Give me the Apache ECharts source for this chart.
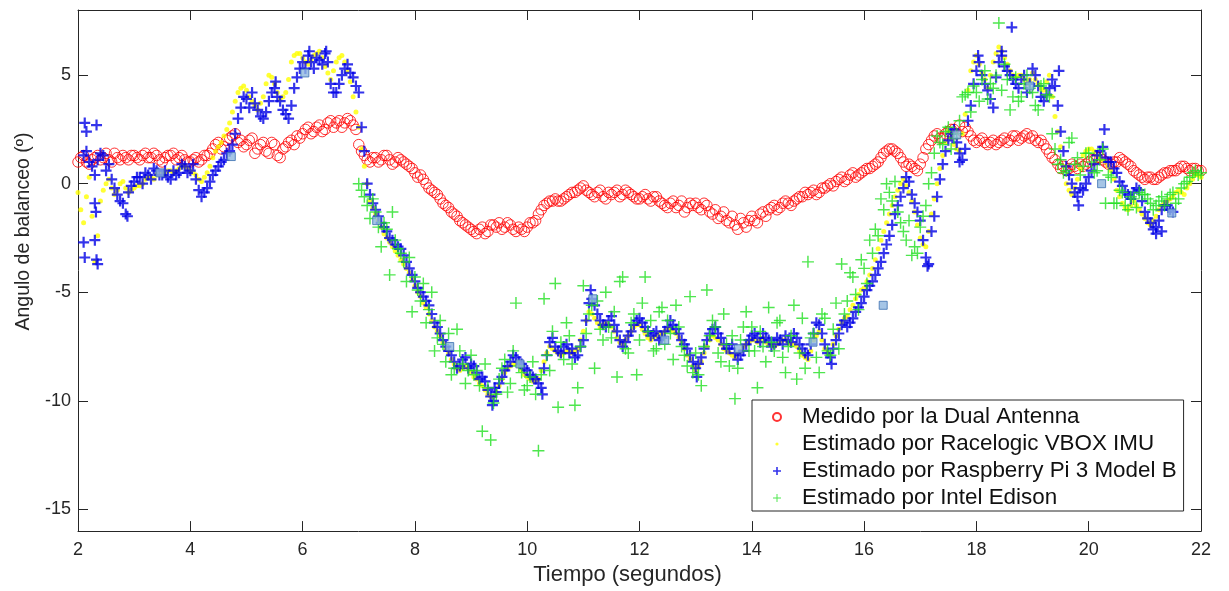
<!DOCTYPE html>
<html><head><meta charset="utf-8">
<script src="https://cdn.jsdelivr.net/npm/echarts@6/dist/echarts.min.js"></script>
<style>html,body{margin:0;padding:0;background:#fff}#c{width:1229px;height:591px}</style>
</head><body><div id="c"></div>
<script>
// ---------- data (rows = one second, samples every 0.1 s) ----------
const seriesNames = ['Medido por la Dual Antenna','Estimado por Racelogic VBOX IMU','Estimado por Raspberry Pi 3 Model B','Estimado por Intel Edison'];
const yTickValues = [-15, -10, -5, 0, 5];

// Dual Antenna, t = s.0 .. s.9 starting at 2 s
const dualA = [
 [1.0,1.3,0.9,1.2,1.1,1.4,1.0,1.2,1.3,1.1],
 [1.3,1.1,1.4,1.2,1.3,1.0,1.3,1.4,1.2,1.1],
 [1.0,1.2,1.1,1.3,1.6,1.9,1.7,2.1,2.3,2.0],
 [1.8,2.1,1.6,1.9,1.4,1.8,1.2,1.7,2.0,2.2],
 [2.3,2.6,2.4,2.7,2.5,2.9,2.8,2.6,3.0,2.7],
 [1.8,1.3,1.0,1.2,1.1,1.3,0.9,1.2,1.0,0.8],
 [0.5,0.4,0.0,-0.3,-0.5,-0.9,-1.1,-1.4,-1.7,-1.9],
 [-2.1,-2.3,-2.0,-2.2,-1.9,-1.8,-2.0,-1.9,-2.2,-2.1],
 [-2.0,-1.8,-1.4,-1.0,-0.8,-0.7,-0.8,-0.6,-0.4,-0.3],
 [-0.1,-0.4,-0.6,-0.3,-0.7,-0.5,-0.3,-0.5,-0.4,-0.6],
 [-0.7,-0.5,-0.8,-0.6,-0.9,-1.1,-0.8,-1.0,-1.3,-0.9],
 [-0.9,-1.2,-1.0,-1.4,-1.6,-1.3,-1.8,-1.9,-1.6,-2.0],
 [-1.5,-1.8,-1.3,-1.2,-1.0,-1.1,-0.8,-1.0,-0.7,-0.6],
 [-0.5,-0.3,-0.4,-0.2,0.0,0.1,0.3,0.2,0.5,0.4],
 [0.6,0.7,0.9,1.2,1.5,1.6,1.4,1.0,0.9,0.7],
 [0.9,1.6,2.0,2.3,2.1,2.4,2.5,2.7,2.6,2.2],
 [1.9,2.1,1.8,2.0,1.9,2.1,2.0,2.2,2.1,2.3],
 [2.2,1.9,1.8,1.4,1.1,0.7,0.6,0.9,0.7,0.8],
 [1.0,1.1,1.2,1.0,0.9,1.0,1.1,0.9,0.6,0.4],
 [0.2,0.3,0.2,0.4,0.5,0.6,0.7,0.8,0.6,0.7],
 [0.6]
];
// Dual Antenna, t = s.05 .. s.95
const dualB = [
 [1.2,1.0,1.1,1.3,1.2,1.1,1.4,1.1,1.2,1.3],
 [1.2,1.3,1.2,1.4,1.1,1.2,1.3,1.1,1.3,1.0],
 [1.1,1.0,1.3,1.4,1.8,1.6,2.0,2.2,1.9,1.7],
 [2.0,1.4,1.8,1.5,1.9,1.3,1.6,1.9,1.8,2.1],
 [2.5,2.3,2.6,2.4,2.8,2.6,2.9,2.8,2.9,2.5],
 [1.5,1.1,1.2,1.0,1.3,1.1,1.0,1.1,0.9,0.7],
 [0.3,0.2,-0.2,-0.4,-0.7,-1.0,-1.3,-1.5,-1.8,-2.0],
 [-2.2,-2.1,-2.3,-1.9,-2.0,-2.1,-1.8,-2.1,-2.0,-2.2],
 [-1.8,-1.7,-1.2,-0.9,-0.8,-0.8,-0.7,-0.5,-0.4,-0.2],
 [-0.3,-0.5,-0.4,-0.6,-0.4,-0.4,-0.6,-0.3,-0.5,-0.7],
 [-0.6,-0.7,-0.6,-0.8,-1.0,-0.9,-1.1,-0.8,-1.1,-1.0],
 [-1.1,-0.9,-1.3,-1.2,-1.5,-1.7,-1.5,-2.1,-1.8,-1.7],
 [-1.7,-1.4,-1.5,-1.1,-1.2,-0.9,-0.9,-0.8,-0.6,-0.4],
 [-0.4,-0.5,-0.2,-0.1,-0.1,0.2,0.1,0.4,0.3,0.5],
 [0.7,0.8,1.0,1.4,1.6,1.5,1.2,0.8,0.8,0.6],
 [1.2,1.8,2.2,2.1,2.3,2.5,2.3,2.4,2.4,2.0],
 [2.0,1.9,1.9,1.8,2.0,1.9,2.2,2.0,2.2,2.1],
 [2.0,2.0,1.6,1.2,0.9,0.8,0.7,0.8,0.9,0.9],
 [1.1,1.2,1.1,0.9,1.0,1.2,1.0,0.8,0.5,0.3],
 [0.3,0.2,0.3,0.5,0.6,0.6,0.8,0.7,0.7,0.6]
];

// VBOX IMU
const vboxA = [
 [-0.4,-1.8,0.3,-3.6,-0.8,0.0,-0.2,-0.3,0.1,-0.4],
 [-0.2,-0.1,0.2,0.3,0.4,0.5,0.6,0.5,0.7,0.8],
 [0.6,0.4,0.1,0.5,1.2,1.7,2.2,2.8,3.8,4.4],
 [4.3,3.8,3.4,4.0,5.0,4.6,3.9,4.2,5.6,6.0],
 [5.8,5.5,5.9,6.1,5.4,4.8,5.6,5.9,5.2,4.0],
 [2.6,0.8,-0.8,-1.4,-2.0,-2.5,-2.9,-3.3,-3.7,-4.1],
 [-4.7,-5.2,-5.7,-6.3,-6.8,-7.3,-7.8,-8.3,-8.6,-8.4],
 [-8.7,-9.0,-9.3,-9.7,-9.8,-9.3,-8.7,-8.4,-8.3,-8.6],
 [-8.9,-9.1,-9.0,-8.2,-7.5,-7.7,-7.9,-7.7,-7.8,-7.6],
 [-6.8,-5.9,-6.2,-6.6,-6.4,-6.6,-7.1,-7.4,-7.0,-6.6],
 [-6.5,-6.9,-7.2,-7.0,-6.9,-6.7,-6.8,-7.1,-7.6,-8.1],
 [-8.6,-8.2,-7.5,-7.0,-7.2,-7.6,-7.8,-8.0,-7.7,-7.4],
 [-7.2,-7.3,-7.1,-7.4,-7.5,-7.3,-7.2,-7.4,-7.5,-7.9],
 [-8.1,-7.2,-6.8,-7.6,-7.9,-7.0,-6.4,-6.1,-5.6,-5.1],
 [-4.8,-4.2,-3.5,-2.6,-1.8,-1.0,-0.3,0.2,-0.4,-1.3],
 [-2.5,-2.9,-1.4,0.0,1.3,2.4,1.8,1.5,3.2,5.2],
 [5.9,5.1,4.4,5.6,6.3,5.8,5.2,4.9,5.0,4.6],
 [5.1,4.6,4.3,5.0,3.1,1.7,0.0,-0.5,0.2,1.3],
 [1.6,1.5,1.2,1.0,0.6,-0.3,-0.9,-1.2,-0.8,-1.2],
 [-1.6,-1.9,-1.5,-1.0,-0.8,-0.6,-0.3,-0.5,0.0,0.4],
 [0.3]
];
const vboxB = [
 [-1.2,-0.6,-1.5,-2.4,-0.3,0.2,-0.5,0.0,-0.2,-0.3],
 [-0.1,0.0,0.3,0.2,0.5,0.4,0.6,0.6,0.8,0.7],
 [0.5,0.2,0.3,0.8,1.5,1.9,2.5,3.3,4.2,4.5],
 [4.0,3.6,3.7,4.6,4.9,4.2,4.0,4.8,5.9,6.0],
 [5.6,5.7,6.0,5.8,5.1,5.2,5.8,5.6,4.7,3.3],
 [1.6,0.0,-1.1,-1.7,-2.3,-2.7,-3.1,-3.5,-3.9,-4.4],
 [-5.0,-5.5,-6.0,-6.6,-7.0,-7.6,-8.1,-8.5,-8.5,-8.5],
 [-8.9,-9.2,-9.5,-9.8,-9.6,-9.0,-8.5,-8.3,-8.4,-8.8],
 [-9.0,-9.1,-8.6,-7.8,-7.6,-7.8,-7.8,-7.7,-7.7,-7.2],
 [-6.3,-6.0,-6.4,-6.5,-6.5,-6.8,-7.3,-7.2,-6.8,-6.5],
 [-6.7,-7.1,-7.1,-6.9,-6.8,-6.7,-6.9,-7.3,-7.9,-8.4],
 [-8.4,-7.8,-7.2,-7.1,-7.4,-7.7,-7.9,-7.8,-7.5,-7.3],
 [-7.2,-7.2,-7.3,-7.4,-7.4,-7.2,-7.3,-7.4,-7.7,-8.0],
 [-7.7,-7.0,-7.2,-7.8,-7.4,-6.7,-6.2,-5.8,-5.3,-4.9],
 [-4.5,-3.9,-3.0,-2.2,-1.4,-0.6,0.0,-0.1,-0.8,-1.9],
 [-2.8,-2.2,-0.7,0.7,1.9,2.1,1.6,2.3,4.3,5.6],
 [5.5,4.8,5.0,6.0,6.1,5.5,5.0,5.0,4.8,4.8],
 [4.8,4.4,4.7,4.0,2.4,0.8,-0.3,-0.2,0.7,1.5],
 [1.6,1.3,1.1,0.8,0.2,-0.6,-1.1,-1.0,-1.0,-1.4],
 [-1.8,-1.7,-1.2,-0.9,-0.7,-0.4,-0.4,-0.2,0.2,0.4]
];

// Raspberry Pi 3 Model B
const raspA = [
 [null,1.3,1.0,0.4,1.4,0.6,0.2,-0.5,-0.9,-0.4],
 [0.1,0.3,0.5,0.2,0.6,0.4,0.3,0.6,0.5,0.8],
 [0.6,0.2,-0.6,-0.2,0.4,0.8,1.1,1.5,2.3,3.5],
 [3.9,4.2,3.4,3.0,3.8,4.4,3.8,3.2,3.6,4.9],
 [5.6,5.9,5.3,5.7,6.0,4.6,4.2,5.0,5.5,4.9],
 [4.2,1.5,-0.5,-1.2,-1.8,-2.2,-2.6,-2.9,-3.3,-3.9],
 [-4.5,-5.0,-5.4,-6.0,-6.6,-7.2,-7.7,-8.2,-8.4,-8.0],
 [-8.3,-8.7,-8.9,-9.5,-10.0,-9.2,-8.6,-8.2,-8.0,-8.3],
 [-8.6,-8.9,-9.2,-8.5,-7.3,-7.5,-7.8,-7.4,-7.6,-7.9],
 [-7.2,-5.5,-5.6,-6.3,-6.6,-6.1,-6.8,-7.5,-7.0,-6.5],
 [-6.2,-6.6,-7.0,-6.8,-7.1,-6.6,-6.5,-6.9,-7.4,-7.9],
 [-8.5,-8.0,-7.2,-6.7,-6.9,-7.4,-7.6,-7.8,-7.9,-7.4],
 [-7.0,-7.1,-6.9,-7.2,-7.4,-7.2,-7.0,-7.3,-7.1,-7.6],
 [-7.9,-6.9,-6.5,-7.4,-8.0,-7.2,-6.5,-6.6,-6.2,-5.7],
 [-5.2,-4.7,-4.2,-3.6,-2.8,-1.9,-1.0,-0.2,0.1,-0.9],
 [-1.7,-3.4,-2.2,-0.6,0.9,2.0,2.5,1.4,1.6,3.6],
 [5.2,5.0,4.3,3.5,5.6,5.4,5.0,4.6,4.8,4.2],
 [5.3,4.5,3.8,4.4,4.5,2.4,0.8,0.0,-0.6,-0.3],
 [0.3,0.9,1.5,1.2,1.0,0.5,-0.1,-0.5,-0.4,-0.3],
 [-1.3,-1.8,-2.0,-1.2,-1.0,-1.3]
];
const raspB = [
 [null,1.5,0.8,1.1,1.3,0.9,-0.2,-0.8,-1.4,-0.1],
 [0.3,0.0,0.4,0.7,0.4,0.6,0.2,0.4,0.9,0.5],
 [0.9,-0.3,-0.4,0.1,0.6,1.0,1.4,1.8,3.0,4.0],
 [3.5,3.7,3.1,3.3,4.2,4.0,3.4,3.0,4.4,5.3],
 [5.3,5.6,5.8,5.5,5.6,4.2,4.6,5.3,5.1,4.5],
 [2.6,0.0,-0.9,-1.5,-2.0,-2.5,-2.8,-3.0,-3.6,-4.2],
 [-4.8,-5.2,-5.6,-6.4,-6.9,-7.5,-7.9,-8.5,-8.1,-8.5],
 [-8.4,-9.0,-9.1,-9.8,-9.6,-8.9,-8.4,-7.9,-8.2,-8.5],
 [-8.8,-9.0,-9.4,-7.9,-7.1,-7.7,-7.5,-7.8,-8.0,-7.5],
 [-6.3,-5.3,-6.0,-6.5,-6.3,-6.5,-7.2,-7.3,-6.8,-6.3],
 [-6.4,-6.8,-6.9,-7.2,-6.8,-6.3,-6.7,-7.2,-7.6,-8.2],
 [-8.3,-7.6,-6.9,-6.6,-7.1,-7.6,-7.4,-8.1,-7.7,-7.2],
 [-6.9,-7.3,-7.1,-7.5,-7.1,-7.4,-7.2,-6.9,-7.4,-7.8],
 [-7.4,-6.4,-6.9,-7.8,-7.6,-6.9,-6.3,-6.4,-5.9,-5.5],
 [-4.9,-4.5,-3.9,-3.2,-2.4,-1.4,-0.6,0.3,-0.5,-1.3],
 [-2.6,-3.7,-1.5,0.2,1.5,2.3,1.9,1.1,2.9,4.6],
 [5.6,4.6,3.9,4.9,5.9,5.2,4.8,4.4,5.0,4.6],
 [5.0,4.0,4.1,4.8,3.6,1.5,0.4,-0.4,-0.2,0.0],
 [0.6,1.3,1.7,1.0,0.7,0.1,-0.4,-0.7,-0.2,-0.8],
 [-1.6,-2.1,-1.7,-1.0,-1.2]
];
// isolated Raspberry samples [t, value]
const raspExtra = [
 [2.12,2.8],[2.15,2.4],[2.33,2.7],[2.10,-2.7],[2.12,-3.4],[2.30,-2.6],[2.33,-3.5],[2.35,-3.7],
 [2.30,-0.9],[2.32,-1.3],[2.88,-1.5],[5.52,4.7],[6.12,6.1],[6.42,6.1],[9.38,-10.2],[9.42,-9.4],
 [10.27,-9.7],[11.13,-4.9],[13.02,-8.9],[15.42,-8.3],[17.13,-3.8],[18.03,5.9],[18.45,6.1],
 [18.63,7.2],[19.47,5.2],[20.28,2.5],[21.20,-2.3],[21.30,-2.2],[17.70,1.0],[19.82,-1.0]
];

// Intel Edison, rows start at 7 s
const edisonA = [
 [0.0,-0.6,-1.6,-1.3,-2.9,-2.1,-1.3,-3.0,-3.6,-3.4],
 [-4.3,-5.4,-6.4,-5.0,-7.1,-7.4,-6.9,-8.5,-7.7,-9.2],
 [-7.9,-8.6,-11.4,-9.4,-10.1,-9.0,-8.1,-9.2,-5.5,-8.7],
 [-9.3,-8.2,-12.3,-5.3,-8.6,-4.6,-7.3,-6.4,-8.3,-9.4],
 [-4.7,-6.0,-8.5,-6.7,-5.0,-7.1,-8.9,-4.3,-7.8,-6.0],
 [-7.2,-4.3,-6.3,-7.6,-5.7,-6.3,-8.1,-6.6,-7.9,-5.2],
 [-7.8,-9.3,-4.9,-6.3,-7.8,-6.0,-8.4,-9.9,-7.2,-5.9],
 [-6.6,-9.4,-7.5,-5.7,-7.7,-6.3,-8.7,-7.0,-9.0,-6.2],
 [-3.6,-6.9,-8.7,-6.2,-7.9,-5.5,-3.7,-5.4,-4.3,-5.8],
 [-3.9,-2.6,-2.1,-0.7,0.0,-0.8,-1.3,-2.2,-1.7,-2.9],
 [-2.0,-1.0,0.5,2.2,1.8,2.6,2.1,2.9,4.1,3.3],
 [4.2,4.8,3.9,4.4,7.4,5.5,3.4,4.9,4.0,5.0],
 [4.2,3.4,4.6,4.0,1.6,1.1,0.6,2.1,1.2,0.8],
 [1.4,0.5,1.1,-0.9,0.3,-0.9,-0.4,-1.2,-0.7,-0.4],
 [-0.5,-0.9,-1.0,-0.6,-0.7,-0.4,-0.7,0.0,0.3,0.6],
 [0.5]
];
const edisonB = [
 [-0.3,-1.0,-0.7,-2.0,-1.8,-4.2,-2.6,-3.2,-4.5,-5.9],
 [-4.9,-4.6,-5.8,-7.7,-6.3,-8.2,-8.8,-6.7,-8.3,-8.6],
 [-8.8,-9.3,-8.3,-11.8,-9.7,-8.5,-9.6,-7.7,-8.4,-9.5],
 [-8.9,-9.7,-8.8,-7.9,-6.8,-10.3,-8.1,-7.0,-10.2,-7.5],
 [-6.9,-5.6,-5.4,-7.2,-6.6,-5.9,-4.5,-7.6,-6.4,-8.8],
 [-5.5,-6.8,-7.7,-5.9,-7.4,-6.9,-5.6,-7.5,-8.4,-8.7],
 [-8.8,-7.5,-7.0,-6.6,-8.2,-7.4,-7.0,-8.5,-6.6,-7.7],
 [-7.7,-6.8,-8.2,-7.3,-6.4,-8.0,-7.5,-5.6,-7.8,-8.5],
 [-7.1,-8.0,-6.0,-7.7,-6.7,-7.6,-6.0,-4.1,-5.1,-3.5],
 [-4.6,-3.2,-2.4,-1.2,-0.4,0.1,-1.8,-2.6,-3.3,-3.2],
 [-1.5,0.0,1.4,1.9,2.4,1.6,2.3,4.0,4.2,4.5],
 [3.8,5.2,4.6,5.0,4.3,4.8,4.0,3.8,4.6,4.4],
 [3.6,4.5,4.1,2.3,0.9,0.5,1.9,0.9,0.4,1.4],
 [1.0,0.6,1.6,0.4,-0.9,-0.3,-1.0,-0.6,-1.1,-0.5],
 [-0.7,-1.2,-0.8,-1.0,-0.5,-0.9,-0.2,0.1,0.5,0.4]
];

// highlighted square markers
const markT = [3.46,4.73,6.04,7.32,8.62,9.87,11.17,12.45,13.76,15.09,16.34,17.65,18.95,20.23,21.48];
const markV = [0.5,1.25,5.1,-1.7,-7.5,-8.3,-5.3,-7.2,-7.6,-7.3,-5.6,2.25,4.5,0.0,-1.35];

// ---------- build ----------
function expand(rows, firstSec, offset) {
  const pts = [];
  rows.forEach((row, r) => row.forEach((v, j) => {
    if (v === null) return;
    pts.push([Math.round((firstSec + r + offset + j * 0.1) * 100) / 100, v]);
  }));
  return pts;
}
const dualData = expand(dualA, 2, 0).concat(expand(dualB, 2, 0.05));
const vboxData = expand(vboxA, 2, 0).concat(expand(vboxB, 2, 0.05));
const raspData = expand(raspA, 2, 0).concat(expand(raspB, 2, 0.05)).concat(raspExtra);
const edisonData = expand(edisonA, 7, 0).concat(expand(edisonB, 7, 0.05));
const markData = markT.map((t, i) => [t, markV[i]]);

const FONT = "'Liberation Sans', Arial, Helvetica, sans-serif";
const AX = '#262626';
const plusThick = 'path://M40,0H60V40H100V60H60V100H40V60H0V40H40Z';
const plusThin = 'path://M44,0H56V44H100V56H56V100H44V56H0V44H44Z';
const dotIcon = 'path://M0,0M10,10M5,3A2,2,0,1,1,5,7A2,2,0,1,1,5,3Z';

const chart = echarts.init(document.getElementById('c'), null, {renderer: 'canvas'});
const axBase = {
  axisLine: {show: true, onZero: false, lineStyle: {color: AX, width: 1}},
  splitLine: {show: false}
};
chart.setOption({
  animation: false,
  backgroundColor: '#fff',
  textStyle: {fontFamily: FONT},
  grid: {left: 78, right: 28, top: 10, bottom: 58, containLabel: false},
  xAxis: [
    Object.assign({}, axBase, {
      type: 'value', min: 2, max: 22, interval: 2, position: 'bottom',
      axisTick: {show: true, inside: true, length: 10, lineStyle: {color: AX}},
      axisLabel: {fontSize: 18, color: AX, margin: 10, fontFamily: FONT},
      name: 'Tiempo (segundos)', nameLocation: 'middle', nameGap: 32,
      nameTextStyle: {fontSize: 22, color: AX, fontFamily: FONT, padding: [0, 24, 0, 0]}
    }),
    Object.assign({}, axBase, {
      type: 'value', min: 2, max: 22, interval: 2, position: 'top',
      axisTick: {show: true, inside: true, length: 10, lineStyle: {color: AX}},
      axisLabel: {show: false}
    })
  ],
  yAxis: [
    Object.assign({}, axBase, {
      type: 'value', min: -16, max: 8, position: 'left',
      axisTick: {show: true, inside: true, length: 10, customValues: yTickValues, lineStyle: {color: AX}},
      axisLabel: {fontSize: 18, color: AX, margin: 7, customValues: yTickValues, fontFamily: FONT},
      name: 'Angulo de balanceo (º)', nameLocation: 'middle', nameGap: 44, nameRotate: 90,
      nameTextStyle: {fontSize: 19.5, color: AX, fontFamily: FONT, padding: [0, 0, 0, 78]}
    }),
    Object.assign({}, axBase, {
      type: 'value', min: -16, max: 8, position: 'right',
      axisTick: {show: true, inside: true, length: 10, customValues: yTickValues, lineStyle: {color: AX}},
      axisLabel: {show: false, customValues: yTickValues}
    })
  ],
  legend: {
    orient: 'vertical', left: 752, top: 400,
    padding: [6, 7, 2, 20], itemGap: 5, itemWidth: 40, itemHeight: 8,
    backgroundColor: '#fff', borderColor: AX, borderWidth: 1, borderRadius: 0,
    selectedMode: false,
    textStyle: {fontSize: 22.4, lineHeight: 22, color: '#111', fontFamily: FONT},
    data: [
      {name: seriesNames[0]},
      {name: seriesNames[1], icon: dotIcon},
      {name: seriesNames[2]},
      {name: seriesNames[3], icon: plusThin}
    ]
  },
  series: [
    {name: seriesNames[0], type: 'scatter', data: dualData, symbol: 'circle', symbolSize: 10.5,
     itemStyle: {color: 'rgba(255,0,0,0)', borderColor: '#ff0000', borderWidth: 1},
     silent: true, emphasis: {disabled: true}, z: 2},
    {name: seriesNames[1], type: 'scatter', data: vboxData, symbol: 'circle', symbolSize: 5,
     itemStyle: {color: '#ffff00'}, silent: true, emphasis: {disabled: true}, z: 3},
    {name: seriesNames[2], type: 'scatter', data: raspData, symbol: plusThick, symbolSize: 11,
     itemStyle: {color: '#0000e6'}, silent: true, emphasis: {disabled: true}, z: 4},
    {name: seriesNames[3], type: 'scatter', data: edisonData, symbol: plusThin, symbolSize: 12,
     itemStyle: {color: '#22e022'}, silent: true, emphasis: {disabled: true}, z: 5},
    {name: 'marcas', type: 'scatter', data: markData, symbol: 'rect', symbolSize: 8,
     itemStyle: {color: '#8fb6e0', borderColor: '#3b6fb0', borderWidth: 1},
     silent: true, emphasis: {disabled: true}, z: 6}
  ]
});
</script>
</body></html>
